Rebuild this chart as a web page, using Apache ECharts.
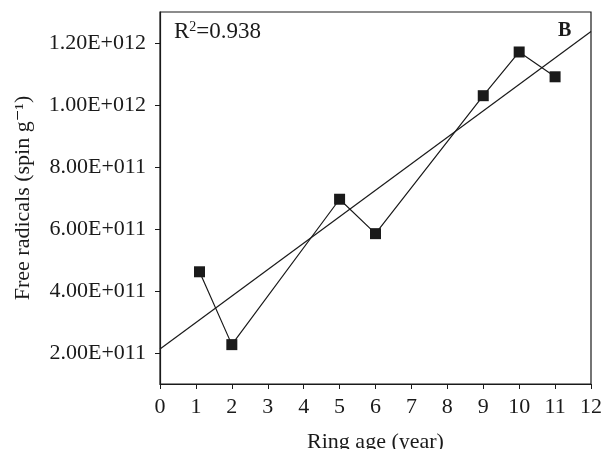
<!DOCTYPE html>
<html>
<head>
<meta charset="utf-8">
<script src="https://cdn.jsdelivr.net/npm/echarts@6/dist/echarts.min.js"></script>
<style>
  html, body { margin: 0; padding: 0; background: #fff; }
  #chart { width: 604px; height: 449px; }
</style>
</head>
<body>
<div id="chart"></div>
<script>
// ring age (year) and free radical content (spin g-1)
var ringAge = [1.1, 2, 5, 6, 9, 10, 11];
var freeRadicals = [4.62e11, 2.27e11, 6.96e11, 5.85e11, 1.03e12, 1.171e12, 1.091e12];
// linear fit end points
var fitX = [0, 12];
var fitY = [2.13e11, 1.237e12];
var yTicks = [2e11, 4e11, 6e11, 8e11, 1e12, 1.2e12];
var rSquared = '0.938';
var panelLabel = 'B';

var FONT = '"Liberation Serif", "DejaVu Serif", serif';
var INK = '#1a1a1a';

function fmt(v) {
    // 2.00E+011 style
    var exp = Math.floor(Math.log10(v));
    var mant = (v / Math.pow(10, exp)).toFixed(2);
    var e = String(exp);
    while (e.length < 3) e = '0' + e;
    return mant + 'E+' + e;
}

var chart = echarts.init(document.getElementById('chart'));

var option = {
    backgroundColor: '#fff',
    animation: false,
    grid: {
        left: 160, right: 13, top: 12, bottom: 65,
        outerBoundsMode: 'none', containLabel: false,
        show: true, borderColor: INK, borderWidth: 1.2
    },
    xAxis: {
        type: 'value',
        min: 0, max: 12, interval: 1,
        name: 'Ring age (year)',
        nameLocation: 'middle',
        nameGap: 47,
        nameTextStyle: { fontFamily: FONT, fontSize: 22, color: INK },
        axisLine: { lineStyle: { color: INK, width: 1.2 } },
        axisTick: { inside: false, length: 5, lineStyle: { color: INK } },
        axisLabel: { fontFamily: FONT, fontSize: 22, color: INK, margin: 12 },
        splitLine: { show: false }
    },
    yAxis: {
        type: 'value',
        min: 1e11, max: 1.3e12, interval: 1e11,
        name: 'Free radicals (spin g\u207B\u00B9)',
        nameLocation: 'middle',
        nameGap: 126,
        nameTextStyle: { fontFamily: FONT, fontSize: 22, color: INK },
        axisLine: { lineStyle: { color: INK, width: 1.2 } },
        axisTick: { length: 5, lineStyle: { color: INK }, customValues: yTicks },
        axisLabel: {
            fontFamily: FONT, fontSize: 22, color: INK, margin: 14,
            customValues: yTicks,
            formatter: function (v) { return fmt(v); }
        },
        splitLine: { show: false }
    },
    series: [
        {
            name: 'data',
            type: 'line',
            data: ringAge.map(function (x, i) { return [x, freeRadicals[i]]; }),
            symbol: 'rect',
            symbolSize: 11,
            lineStyle: { color: INK, width: 1.2 },
            itemStyle: { color: INK },
            z: 3
        },
        {
            name: 'fit',
            type: 'line',
            data: fitX.map(function (x, i) { return [x, fitY[i]]; }),
            symbol: 'none',
            lineStyle: { color: INK, width: 1.2 },
            z: 2
        }
    ],
    graphic: [
        {
            type: 'text', left: 174, top: 20,
            style: {
                rich: {
                    n: { fontFamily: FONT, fontSize: 23, fill: INK },
                    s: { fontFamily: FONT, fontSize: 14, fill: INK, verticalAlign: 'top', padding: [0, 0, 9, 0] }
                },
                text: '{n|R}{s|2}{n|=' + rSquared + '}'
            }
        },
        {
            type: 'text', left: 558, top: 21,
            style: { text: panelLabel, fontFamily: FONT, fontSize: 20, fontWeight: 'bold', fill: INK }
        }
    ]
};

chart.setOption(option);
</script>
</body>
</html>
